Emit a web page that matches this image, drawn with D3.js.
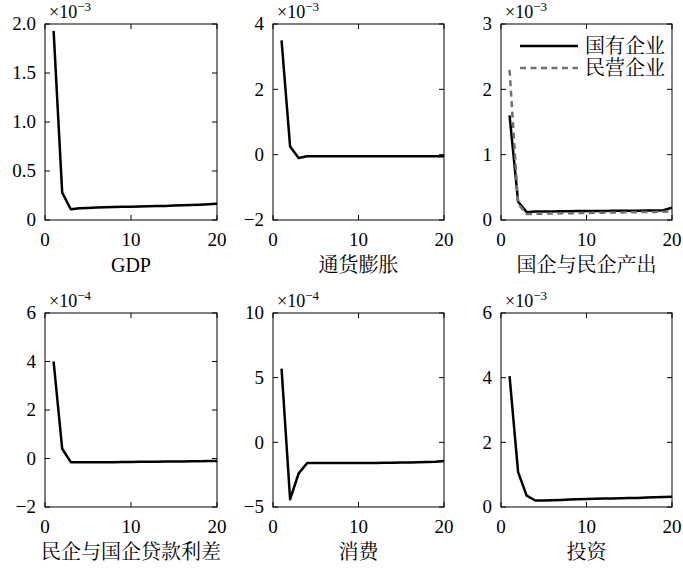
<!DOCTYPE html>
<html>
<head>
<meta charset="utf-8">
<script src="https://cdn.jsdelivr.net/npm/d3@7"></script>
<style>
body{margin:0;background:#fff;}
svg{display:block;}
</style>
</head>
<body>
<svg id="chart"></svg>
<script>
var w = 683, h = 568;
var serif = "'Liberation Serif', 'DejaVu Serif', serif";
var cjk = "'Liberation Serif', 'Noto Serif CJK SC', 'Noto Sans CJK SC', serif";

// periods 1..20
var periods = d3.range(1, 21);

// values already divided by the exponent shown in the corner
var gdp = [1.93,0.28,0.11,0.12,0.123,0.127,0.13,0.132,0.134,0.136,0.138,0.14,0.142,0.144,0.147,0.15,0.153,0.156,0.16,0.165];
var inflation = [3.5,0.25,-0.1,-0.05,-0.05,-0.05,-0.05,-0.05,-0.05,-0.05,-0.05,-0.05,-0.05,-0.05,-0.05,-0.05,-0.05,-0.05,-0.05,-0.05];
var soeOutput = [1.6,0.28,0.12,0.13,0.13,0.132,0.134,0.135,0.136,0.137,0.138,0.139,0.14,0.141,0.142,0.143,0.145,0.147,0.15,0.19];
var privOutput = [2.3,0.25,0.09,0.095,0.097,0.1,0.102,0.104,0.106,0.108,0.11,0.112,0.114,0.116,0.118,0.12,0.122,0.124,0.126,0.13];
var spread = [4.0,0.4,-0.15,-0.15,-0.15,-0.15,-0.15,-0.15,-0.14,-0.14,-0.135,-0.13,-0.13,-0.125,-0.12,-0.12,-0.115,-0.11,-0.105,-0.1];
var consumption = [5.7,-4.4,-2.4,-1.6,-1.6,-1.6,-1.6,-1.6,-1.6,-1.6,-1.6,-1.6,-1.58,-1.57,-1.56,-1.55,-1.54,-1.52,-1.5,-1.45];
var investment = [4.05,1.08,0.35,0.2,0.2,0.21,0.22,0.23,0.24,0.25,0.255,0.26,0.265,0.27,0.275,0.28,0.29,0.3,0.31,0.32];

var titles = ["GDP","通货膨胀","国企与民企产出","民企与国企贷款利差","消费","投资"];
var exponents = ["-3","-3","-3","-4","-4","-3"];
var yDomains = [[0,2],[-2,4],[0,3],[-2,6],[-5,10],[0,6]];
var yTicks = [[0,0.5,1,1.5,2],[-2,0,2,4],[0,1,2,3],[-2,0,2,4,6],[-5,0,5,10],[0,2,4,6]];
var xTicks = [0,10,20];
var legendNames = ["国有企业","民营企业"];

var panels = [
  {series:[gdp]},
  {series:[inflation]},
  {series:[soeOutput, privOutput], legend:true},
  {series:[spread]},
  {series:[consumption]},
  {series:[investment]}
];

var colLeft = [45, 273, 501], colW = [172, 171, 171];
var rowTop = [24, 313], rowH = [196, 194];

var svg = d3.select('#chart').attr('width', w).attr('height', h);

var styles = [
  {stroke:'#000', dash:null, width:2.5},
  {stroke:'#707070', dash:'6,4.5', width:2.5}
];

panels.forEach(function(p, i){
  var c = i % 3, r = Math.floor(i / 3);
  var x0 = colLeft[c], y0 = rowTop[r], pw = colW[c], ph = rowH[r];
  var g = svg.append('g').attr('transform', 'translate(' + x0 + ',' + y0 + ')');

  var x = d3.scaleLinear().domain([0, 20]).range([0, pw]);
  var y = d3.scaleLinear().domain(yDomains[i]).range([ph, 0]);
  var tl = 5;

  var fmt = (i === 0) ? function(d){ return d === 0 ? '0' : d3.format('.1f')(d); } : function(d){ return d < 0 ? '\u2212' + Math.abs(d) : d; };

  g.append('clipPath').attr('id', 'clip' + i)
    .append('rect').attr('width', pw).attr('height', ph);

  var line = d3.line()
    .x(function(d, k){ return x(periods[k]); })
    .y(function(d){ return y(d); });

  p.series.forEach(function(s, k){
    var st = styles[k];
    g.append('path')
      .datum(s)
      .attr('clip-path', 'url(#clip' + i + ')')
      .attr('d', line)
      .attr('fill', 'none')
      .attr('stroke', st.stroke)
      .attr('stroke-width', st.width)
      .attr('stroke-dasharray', st.dash)
      .attr('stroke-linejoin', 'round');
  });

  // ticks on all four sides, pointing in
  yTicks[i].forEach(function(t){
    g.append('line').attr('x1', 0).attr('x2', tl).attr('y1', y(t)).attr('y2', y(t)).attr('stroke', '#000');
    g.append('line').attr('x1', pw).attr('x2', pw - tl).attr('y1', y(t)).attr('y2', y(t)).attr('stroke', '#000');
    g.append('text').attr('x', -9).attr('y', y(t)).attr('dy', '0.33em')
      .style('font-family', serif)
      .attr('text-anchor', 'end').attr('font-size', 19).text(fmt(t));
  });
  xTicks.forEach(function(t){
    g.append('line').attr('x1', x(t)).attr('x2', x(t)).attr('y1', ph).attr('y2', ph - tl).attr('stroke', '#000');
    g.append('line').attr('x1', x(t)).attr('x2', x(t)).attr('y1', 0).attr('y2', tl).attr('stroke', '#000');
    g.append('text').attr('x', x(t)).attr('y', ph + 26)
      .style('font-family', serif)
      .attr('text-anchor', 'middle').attr('font-size', 19).text(t);
  });

  g.append('rect').attr('width', pw).attr('height', ph)
    .attr('fill', 'none').attr('stroke', '#000').attr('stroke-width', 1);

  var ex = g.append('text').attr('x', 4).attr('y', -6).attr('font-size', 18)
    .style('font-family', serif);
  ex.append('tspan').text('\u00d710');
  ex.append('tspan').attr('dy', -7).attr('font-size', 13).text(exponents[i].replace('-', '\u2212'));

  g.append('text').attr('x', pw / 2).attr('y', ph + 52)
    .style('font-family', cjk)
    .attr('text-anchor', 'middle').attr('font-size', 20).text(titles[i]);

  if (p.legend) {
    legendNames.forEach(function(name, k){
      var ly = 22 + k * 22;
      g.append('line').attr('x1', 19).attr('x2', 77).attr('y1', ly).attr('y2', ly)
        .attr('stroke', styles[k].stroke).attr('stroke-width', styles[k].width)
        .attr('stroke-dasharray', styles[k].dash);
      g.append('text').attr('x', 84).attr('y', ly).attr('dy', '0.36em')
        .style('font-family', cjk)
        .attr('font-size', 20).text(name);
    });
  }
});
</script>
</body>
</html>
